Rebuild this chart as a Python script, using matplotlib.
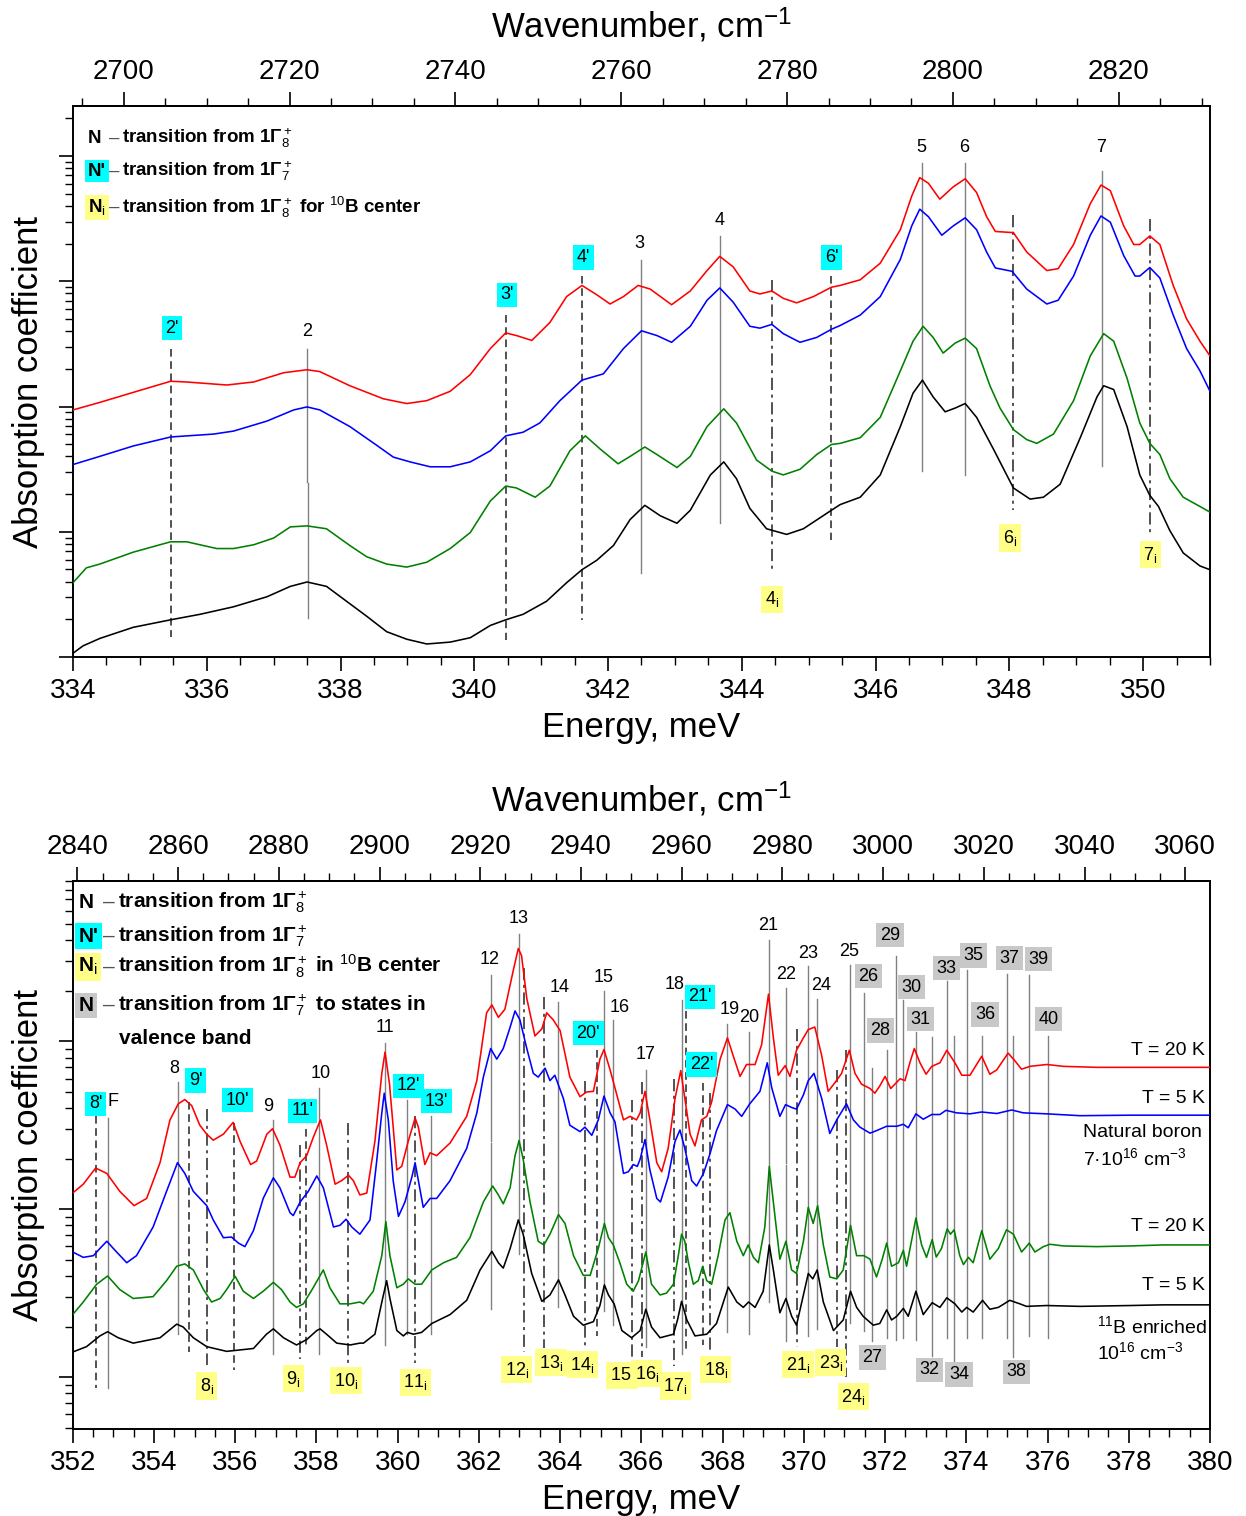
import numpy as np
import matplotlib
matplotlib.use('Agg')
import matplotlib.pyplot as plt
from matplotlib.ticker import MultipleLocator, LogLocator, NullFormatter, FixedLocator

plt.rcParams['font.family'] = ['Liberation Sans', 'DejaVu Sans']
plt.rcParams['mathtext.fontset'] = 'custom'
plt.rcParams['mathtext.rm'] = 'Liberation Sans'
plt.rcParams['mathtext.it'] = 'Liberation Sans:italic'
plt.rcParams['mathtext.bf'] = 'Liberation Sans:bold'

MEV_TO_CM = 8.06554

# ---------------- TOP PANEL DATA: (energy meV, log10 absorption) ----------------
top_red = [(334.00,1.973),(334.40,2.033),(334.90,2.113),(335.46,2.202),(335.70,2.196),(336.30,2.172),(336.70,2.196),
 (337.15,2.270),(337.50,2.294),(337.69,2.279),(338.14,2.166),(338.64,2.062),(338.99,2.024),(339.29,2.047),(339.64,2.122),
 (339.94,2.255),(340.24,2.463),(340.47,2.588),(340.63,2.567),(340.86,2.528),(341.13,2.671),(341.38,2.878),(341.61,2.967),
 (341.83,2.893),(342.03,2.819),(342.23,2.878),(342.45,2.967),(342.63,2.938),(342.95,2.813),(343.23,2.923),(343.48,3.086),
 (343.67,3.199),(343.87,3.116),(344.12,2.923),(344.27,2.899),(344.45,2.923),(344.62,2.864),(344.82,2.828),(345.07,2.878),
 (345.34,2.953),(345.47,2.967),(345.77,3.012),(346.07,3.145),(346.37,3.412),(346.54,3.680),(346.66,3.828),(346.79,3.783),
 (346.96,3.656),(347.16,3.754),(347.34,3.819),(347.51,3.709),(347.66,3.516),(347.79,3.398),(348.06,3.389),(348.26,3.234),
 (348.56,3.086),(348.73,3.101),(348.96,3.294),(349.21,3.620),(349.37,3.769),(349.51,3.724),(349.71,3.442),(349.86,3.294),
 (349.95,3.294),(350.10,3.362),(350.25,3.294),(350.45,2.967),(350.65,2.700),(350.85,2.522),(351.00,2.404)]

top_blue = [(334.00,1.537),(334.40,1.602),(334.90,1.685),(335.46,1.757),(336.10,1.780),(336.40,1.804),(336.90,1.884),
 (337.30,1.973),(337.50,1.997),(337.69,1.973),(338.14,1.840),(338.54,1.691),(338.79,1.596),(339.04,1.558),(339.34,1.519),
 (339.64,1.519),(339.94,1.558),(340.24,1.647),(340.47,1.766),(340.73,1.795),(340.98,1.869),(341.28,2.047),(341.61,2.211),
 (341.93,2.261),(342.23,2.463),(342.50,2.605),(342.73,2.567),(342.95,2.513),(343.23,2.641),(343.48,2.849),(343.67,2.947),
 (343.87,2.834),(344.12,2.641),(344.27,2.626),(344.45,2.656),(344.62,2.582),(344.87,2.513),(345.12,2.552),(345.34,2.617),
 (345.47,2.647),(345.77,2.730),(346.07,2.878),(346.37,3.175),(346.54,3.442),(346.66,3.576),(346.79,3.516),(346.99,3.368),
 (347.16,3.442),(347.34,3.507),(347.51,3.412),(347.66,3.234),(347.79,3.107),(348.04,3.080),(348.26,2.938),(348.56,2.819),
 (348.73,2.849),(348.96,3.042),(349.21,3.368),(349.37,3.522),(349.51,3.472),(349.71,3.205),(349.88,3.042),(349.95,3.042),
 (350.10,3.110),(350.25,3.027),(350.45,2.730),(350.65,2.463),(350.85,2.285),(351.00,2.122)]

top_green = [(334.00,0.593),(334.20,0.712),(334.40,0.742),(334.90,0.837),(335.46,0.920),(335.70,0.920),(336.15,0.866),
 (336.40,0.866),(336.70,0.896),(337.00,0.950),(337.25,1.039),(337.50,1.047),(337.79,1.024),(338.14,0.890),(338.39,0.801),
 (338.69,0.742),(338.99,0.718),(339.29,0.757),(339.64,0.866),(339.94,0.994),(340.24,1.246),(340.47,1.365),(340.63,1.350),
 (340.91,1.276),(341.13,1.365),(341.43,1.647),(341.66,1.766),(341.88,1.662),(342.15,1.543),(342.33,1.602),(342.55,1.677),
 (342.73,1.617),(343.03,1.513),(343.23,1.602),(343.48,1.840),(343.73,1.982),(343.92,1.869),(344.22,1.573),(344.45,1.484),
 (344.62,1.454),(344.87,1.499),(345.12,1.617),(345.34,1.697),(345.47,1.706),(345.77,1.751),(346.07,1.914),(346.37,2.285),
 (346.56,2.522),(346.71,2.641),(346.86,2.552),(347.01,2.427),(347.19,2.507),(347.34,2.546),(347.51,2.463),(347.71,2.166),
 (347.86,1.988),(348.06,1.816),(348.26,1.736),(348.41,1.706),(348.66,1.780),(348.96,2.047),(349.21,2.404),(349.41,2.582),
 (349.56,2.522),(349.76,2.226),(349.95,1.869),(350.10,1.706),(350.25,1.617),(350.40,1.424),(350.60,1.276),(350.85,1.202),
 (351.00,1.157)]

top_black = [(334.00,0.030),(334.15,0.089),(334.40,0.148),(334.90,0.237),(335.46,0.297),(335.90,0.341),(336.40,0.401),
 (336.90,0.481),(337.25,0.564),(337.50,0.599),(337.79,0.564),(338.09,0.445),(338.39,0.326),(338.69,0.202),(338.99,0.142),
 (339.29,0.104),(339.64,0.119),(339.94,0.154),(340.24,0.252),(340.47,0.297),(340.73,0.341),(341.08,0.445),(341.38,0.593),
 (341.61,0.697),(341.83,0.772),(342.08,0.890),(342.33,1.098),(342.55,1.211),(342.78,1.128),(343.03,1.068),(343.23,1.172),
 (343.53,1.454),(343.73,1.558),(343.92,1.424),(344.12,1.187),(344.37,1.024),(344.67,0.979),(344.92,1.024),(345.34,1.172),
 (345.47,1.217),(345.77,1.276),(346.07,1.454),(346.37,1.840),(346.56,2.107),(346.70,2.211),(346.86,2.077),(347.04,1.958),
 (347.19,1.988),(347.34,2.024),(347.51,1.914),(347.76,1.662),(348.06,1.350),(348.31,1.261),(348.51,1.276),(348.76,1.380),
 (349.06,1.751),(349.31,2.077),(349.41,2.166),(349.56,2.136),(349.76,1.840),(349.95,1.454),(350.10,1.291),(350.23,1.202),
 (350.40,1.009),(350.60,0.831),(350.85,0.727),(351.00,0.697)]

# marker lines: (energy, log top, log bottom, style)  s=solid gray, d=dashed, dd=dash-dot
top_lines = [(335.46,2.463,0.163,'d'),(337.50,2.463,1.395,'s'),(337.51,1.389,0.312,'s'),(340.47,2.730,0.134,'d'),
 (341.61,3.042,0.297,'d'),(342.50,3.169,0.668,'s'),(343.67,3.359,1.068,'s'),(344.45,3.012,0.668,'dd'),
 (345.34,3.042,0.935,'d'),(346.70,3.947,1.484,'s'),(347.34,3.947,1.454,'s'),(348.06,3.531,1.172,'dd'),
 (349.38,3.881,1.528,'s'),(350.10,3.501,0.964,'dd')]

I = "$_{\\rm i}$"
# labels: (text, energy, log position, kind)  n=plain, c=cyan, y=yellow, g=gray
top_labels = [("2'",335.48,2.626,'c'),("2",337.50,2.596,'n'),("3'",340.49,2.893,'c'),("4'",341.63,3.190,'c'),
 ("3",342.47,3.300,'n'),("4",343.67,3.487,'n'),("6'",345.34,3.190,'c'),("4"+I,344.45,0.460,'y'),
 ("5",346.68,4.065,'n'),("6",347.33,4.071,'n'),("7",349.37,4.065,'n'),("6"+I,348.01,0.950,'y'),
 ("7"+I,350.11,0.816,'y')]

# ---------------- BOTTOM PANEL DATA ----------------
bot_red = [(352.00,2.096),(352.26,2.149),(352.565,2.245),(352.84,2.213),(353.16,2.106),(353.51,2.021),(353.82,2.064),
 (354.15,2.277),(354.395,2.532),(354.60,2.628),(354.76,2.653),(354.93,2.617),(355.13,2.500),(355.30,2.447),(355.46,2.411),
 (355.71,2.447),(355.95,2.517),(356.12,2.404),(356.38,2.266),(356.53,2.287),(356.78,2.447),(356.92,2.479),(357.10,2.383),
 (357.35,2.191),(357.47,2.191),(357.60,2.277),(357.76,2.319),(357.92,2.426),(358.10,2.532),(358.25,2.383),(358.46,2.149),
 (358.62,2.170),(358.79,2.202),(358.91,2.170),(359.07,2.085),(359.24,2.096),(359.44,2.404),(359.61,2.809),(359.69,2.936),
 (359.80,2.745),(359.98,2.234),(360.10,2.255),(360.26,2.404),(360.43,2.543),(360.51,2.489),(360.67,2.266),(360.80,2.336),
 (360.96,2.319),(361.29,2.394),(361.70,2.553),(361.95,2.766),(362.19,3.170),(362.32,3.217),(362.48,3.143),(362.64,3.191),
 (362.85,3.426),(362.97,3.553),(363.05,3.511),(363.18,3.255),(363.38,3.032),(363.55,3.074),(363.67,3.170),(363.83,3.128),
 (364.00,3.064),(364.24,2.787),(364.49,2.670),(364.65,2.698),(364.82,2.702),(364.98,2.894),(365.08,2.951),(365.23,2.830),
 (365.35,2.723),(365.56,2.532),(365.72,2.553),(365.88,2.532),(365.97,2.574),(366.09,2.702),(366.21,2.532),(366.38,2.277),
 (366.50,2.223),(366.66,2.362),(366.83,2.660),(366.97,2.826),(367.07,2.660),(367.20,2.447),(367.32,2.377),(367.48,2.532),
 (367.61,2.553),(367.73,2.638),(367.94,2.894),(368.12,3.021),(368.26,2.915),(368.43,2.791),(368.59,2.862),(368.80,2.862),
 (368.96,2.979),(369.13,3.281),(369.25,3.021),(369.37,2.798),(369.54,2.855),(369.66,2.791),(369.82,2.947),(369.99,3.021),
 (370.11,3.070),(370.27,3.085),(370.44,2.915),(370.60,2.702),(370.77,2.755),(370.93,2.809),(371.12,2.947),(371.26,2.809),
 (371.42,2.745),(371.63,2.719),(371.75,2.691),(371.87,2.734),(372.00,2.791),(372.14,2.719),(372.37,2.777),(372.49,2.766),
 (372.61,2.872),(372.72,2.957),(372.86,2.872),(373.01,2.804),(373.15,2.851),(373.35,2.872),(373.52,2.947),(373.72,2.872),
 (373.89,2.798),(374.09,2.798),(374.38,2.911),(374.58,2.804),(374.75,2.830),(375.03,2.930),(375.20,2.883),(375.36,2.834),
 (375.57,2.851),(375.98,2.862),(376.39,2.851),(377.21,2.845),(378.03,2.845),(378.85,2.845),(380.00,2.845)]

bot_blue = [(352.00,1.745),(352.26,1.713),(352.51,1.723),(352.67,1.766),(352.84,1.809),(353.00,1.766),(353.33,1.681),
 (353.57,1.723),(353.98,1.894),(354.31,2.106),(354.58,2.277),(354.76,2.213),(354.97,2.106),(355.30,2.021),(355.46,1.936),
 (355.71,1.830),(355.91,1.834),(356.08,1.798),(356.24,1.777),(356.45,1.872),(356.69,2.064),(356.94,2.187),(357.10,2.128),
 (357.35,1.979),(357.43,1.962),(357.60,2.043),(357.80,2.106),(358.01,2.198),(358.17,2.128),(358.42,1.894),(358.58,1.904),
 (358.73,1.940),(358.87,1.894),(359.07,1.851),(359.32,1.936),(359.48,2.277),(359.61,2.574),(359.67,2.691),(359.77,2.532),
 (359.89,2.170),(360.02,1.957),(360.18,2.043),(360.35,2.191),(360.43,2.277),(360.51,2.170),(360.63,2.011),(360.80,2.064),
 (360.96,2.064),(361.29,2.170),(361.70,2.362),(361.95,2.574),(362.11,2.787),(362.29,2.957),(362.44,2.894),(362.60,2.957),
 (362.77,3.085),(362.89,3.181),(363.01,3.128),(363.18,2.957),(363.34,2.809),(363.46,2.787),(363.63,2.840),(363.75,2.766),
 (363.87,2.798),(364.08,2.660),(364.24,2.500),(364.49,2.462),(364.61,2.489),(364.78,2.440),(364.94,2.532),(365.08,2.674),
 (365.23,2.574),(365.35,2.521),(365.56,2.213),(365.68,2.223),(365.80,2.266),(365.90,2.255),(365.97,2.298),(366.09,2.415),
 (366.21,2.234),(366.38,2.064),(366.47,2.043),(366.66,2.191),(366.83,2.404),(366.95,2.472),(367.07,2.362),(367.24,2.170),
 (367.36,2.138),(367.53,2.213),(367.69,2.330),(367.85,2.468),(368.12,2.623),(368.31,2.596),(368.47,2.553),(368.67,2.628),
 (368.92,2.702),(369.10,2.872),(369.21,2.723),(369.41,2.553),(369.55,2.623),(369.70,2.606),(369.82,2.596),(369.99,2.681),
 (370.11,2.766),(370.25,2.809),(370.44,2.660),(370.64,2.451),(370.81,2.532),(371.05,2.628),(371.22,2.532),(371.38,2.489),
 (371.63,2.453),(371.79,2.468),(372.04,2.494),(372.29,2.494),(372.45,2.506),(372.57,2.485),(372.76,2.568),(372.94,2.536),
 (373.15,2.564),(373.35,2.564),(373.50,2.589),(373.76,2.574),(374.09,2.568),(374.38,2.579),(374.75,2.570),(375.12,2.591),
 (375.40,2.574),(375.98,2.568),(376.80,2.557),(378.03,2.560),(380.00,2.560)]

bot_green = [(352.00,1.372),(352.26,1.447),(352.59,1.553),(352.86,1.602),(353.16,1.521),(353.49,1.468),(353.98,1.479),
 (354.31,1.574),(354.56,1.660),(354.76,1.674),(354.97,1.638),(355.22,1.521),(355.42,1.447),(355.63,1.468),(355.79,1.521),
 (356.00,1.600),(356.20,1.511),(356.45,1.468),(356.69,1.511),(356.94,1.564),(357.14,1.521),(357.35,1.447),(357.51,1.415),
 (357.68,1.436),(357.92,1.532),(358.17,1.638),(358.33,1.532),(358.58,1.436),(358.83,1.436),(359.07,1.447),(359.16,1.436),
 (359.40,1.511),(359.61,1.723),(359.71,1.926),(359.81,1.723),(359.98,1.532),(360.14,1.553),(360.26,1.585),(360.43,1.553),
 (360.59,1.553),(360.84,1.638),(361.13,1.681),(361.45,1.713),(361.78,1.830),(362.11,2.043),(362.34,2.138),(362.48,2.085),
 (362.60,2.032),(362.77,2.128),(362.89,2.319),(362.99,2.409),(363.09,2.298),(363.26,2.043),(363.46,1.809),(363.60,1.787),
 (363.75,1.851),(363.96,1.968),(364.12,1.915),(364.33,1.723),(364.57,1.606),(364.74,1.606),(364.94,1.766),(365.09,1.915),
 (365.19,1.830),(365.31,1.787),(365.47,1.681),(365.64,1.553),(365.80,1.511),(365.93,1.574),(366.11,1.745),(366.25,1.553),
 (366.46,1.489),(366.62,1.500),(366.79,1.553),(366.91,1.723),(366.99,1.851),(367.07,1.809),(367.16,1.681),(367.28,1.553),
 (367.40,1.574),(367.51,1.660),(367.61,1.574),(367.73,1.553),(367.89,1.723),(368.06,1.936),(368.18,1.979),(368.35,1.809),
 (368.51,1.723),(368.63,1.787),(368.76,1.713),(368.88,1.681),(369.04,1.894),(369.15,2.255),(369.25,2.043),(369.41,1.702),
 (369.56,1.809),(369.70,1.638),(369.82,1.617),(369.99,1.809),(370.11,2.011),(370.23,1.915),(370.34,2.021),(370.48,1.787),
 (370.64,1.596),(370.81,1.585),(370.97,1.638),(371.15,1.904),(371.30,1.723),(371.48,1.723),(371.63,1.702),(371.79,1.596),
 (371.93,1.702),(372.04,1.798),(372.16,1.660),(372.33,1.681),(372.45,1.755),(372.53,1.660),(372.65,1.809),(372.76,1.947),
 (372.90,1.787),(373.02,1.713),(373.16,1.819),(373.26,1.715),(373.39,1.766),(373.53,1.883),(373.61,1.851),(373.70,1.877),
 (373.84,1.723),(373.93,1.670),(374.05,1.713),(374.17,1.681),(374.38,1.872),(374.58,1.702),(374.79,1.766),(374.99,1.877),
 (375.16,1.851),(375.36,1.745),(375.44,1.766),(375.55,1.798),(375.69,1.745),(375.90,1.777),(376.06,1.791),(376.39,1.781),
 (377.21,1.777),(378.03,1.781),(378.85,1.787),(380.00,1.787)]

bot_black = [(352.00,1.149),(352.34,1.181),(352.67,1.245),(352.86,1.270),(353.12,1.234),(353.49,1.202),(354.15,1.234),
 (354.56,1.315),(354.72,1.298),(354.97,1.234),(355.30,1.181),(355.79,1.153),(356.45,1.170),(356.77,1.255),(356.94,1.287),
 (357.19,1.234),(357.51,1.191),(357.76,1.223),(358.01,1.277),(358.09,1.287),(358.25,1.255),(358.50,1.202),(358.83,1.191),
 (359.07,1.202),(359.16,1.202),(359.44,1.255),(359.63,1.468),(359.73,1.574),(359.81,1.468),(359.98,1.277),(360.14,1.245),
 (360.24,1.266),(360.39,1.255),(360.59,1.266),(360.84,1.319),(361.29,1.372),(361.70,1.457),(362.03,1.638),(362.32,1.749),
 (362.48,1.681),(362.60,1.649),(362.77,1.766),(362.97,1.936),(363.09,1.851),(363.30,1.617),(363.55,1.451),(363.75,1.489),
 (363.96,1.579),(364.12,1.489),(364.33,1.362),(364.57,1.309),(364.82,1.330),(364.98,1.426),(365.09,1.549),(365.19,1.489),
 (365.33,1.436),(365.52,1.277),(365.76,1.234),(365.97,1.277),(366.11,1.404),(366.25,1.298),(366.46,1.234),(366.79,1.255),
 (366.89,1.340),(366.99,1.451),(367.12,1.340),(367.32,1.245),(367.61,1.255),(367.85,1.319),(368.14,1.536),(368.35,1.447),
 (368.51,1.415),(368.64,1.447),(368.80,1.415),(369.00,1.511),(369.15,1.787),(369.25,1.638),(369.41,1.383),(369.56,1.468),
 (369.70,1.362),(369.82,1.309),(369.99,1.489),(370.11,1.617),(370.22,1.585),(370.33,1.638),(370.48,1.447),(370.73,1.277),
 (370.97,1.340),(371.15,1.511),(371.30,1.415),(371.46,1.362),(371.71,1.309),(371.87,1.319),(372.04,1.400),(372.16,1.340),
 (372.29,1.362),(372.45,1.409),(372.57,1.362),(372.76,1.511),(372.94,1.372),(373.16,1.443),(373.35,1.415),(373.52,1.472),
 (373.72,1.436),(373.89,1.387),(374.01,1.415),(374.17,1.387),(374.40,1.457),(374.58,1.404),(374.79,1.415),(375.07,1.457),
 (375.32,1.436),(375.48,1.421),(375.98,1.426),(376.80,1.421),(378.03,1.426),(378.85,1.430),(380.00,1.430)]

bot_lines = [(352.565,2.553,0.936,'d'),(352.86,2.543,0.936,'s'),(354.60,2.755,1.255,'s'),(354.87,2.638,1.149,'d'),
 (355.30,2.596,1.074,'dd'),(355.97,2.511,1.043,'d'),(356.92,2.532,1.138,'s'),(357.59,2.383,1.106,'dd'),
 (357.74,2.479,1.181,'d'),(358.07,2.723,1.138,'s'),(358.79,2.511,1.074,'dd'),(359.69,2.989,1.191,'s'),
 (360.22,2.649,1.255,'s'),(360.43,2.553,1.085,'dd'),(360.82,2.553,1.255,'s'),(362.29,3.394,2.404,'s'),
 (362.30,2.394,1.404,'s'),(362.98,3.638,1.734,'s'),(363.10,3.436,1.149,'dd'),(363.60,3.266,1.170,'dd'),
 (363.96,3.234,1.415,'s'),(364.61,2.766,1.181,'dd'),(364.92,2.947,1.245,'d'),(365.09,3.298,1.394,'s'),
 (365.31,3.128,1.309,'s'),(365.76,2.649,1.106,'dd'),(366.01,2.755,1.117,'dd'),(366.11,2.830,1.181,'s'),
 (366.80,2.777,1.064,'dd'),(366.99,3.245,1.138,'s'),(367.09,3.181,1.160,'d'),(367.51,2.751,1.191,'d'),
 (367.69,2.691,1.138,'dd'),(368.12,3.106,1.266,'s'),(368.66,3.053,1.255,'s'),(369.15,3.606,1.447,'s'),
 (369.56,3.319,2.277,'s'),(369.55,2.266,1.213,'s'),(369.84,3.074,1.181,'dd'),(370.11,3.447,1.245,'s'),
 (370.33,3.255,1.287,'s'),(370.81,2.830,1.181,'dd'),(371.03,2.947,1.000,'dd'),(371.14,3.457,1.319,'s'),
 (371.49,3.287,1.277,'s'),(371.67,2.840,1.213,'s'),(372.04,2.947,1.234,'s'),(372.26,3.511,1.223,'s'),
 (372.45,3.245,1.234,'s'),(372.76,3.053,1.223,'s'),(373.15,3.026,1.128,'s'),(373.53,3.362,1.234,'s'),
 (373.70,3.032,1.096,'s'),(374.02,3.426,1.234,'s'),(374.38,3.032,1.234,'s'),(375.01,3.404,1.234,'s'),
 (375.16,3.032,1.117,'s'),(375.55,3.394,1.245,'s'),(376.02,3.032,1.234,'s')]

bot_labels = [("8'",352.565,2.628,'c'),("F",353.00,2.643,'n'),("8",354.50,2.836,'n'),("9'",355.03,2.766,'c'),
 ("10'",356.06,2.649,'c'),("9",356.82,2.611,'n'),("11'",357.65,2.585,'c'),("10",358.10,2.809,'n'),
 ("11",359.69,3.085,'n'),("12'",360.26,2.734,'c'),("13'",360.96,2.643,'c'),("12",362.27,3.489,'n'),
 ("13",362.97,3.734,'n'),("14",364.00,3.323,'n'),("15",365.08,3.379,'n'),("16",365.47,3.202,'n'),
 ("17",366.11,2.919,'n'),("20'",364.69,3.049,'c'),("18",366.81,3.336,'n'),("21'",367.44,3.266,'c'),
 ("22'",367.48,2.862,'c'),("19",368.17,3.187,'n'),("20",368.66,3.143,'n'),("21",369.11,3.691,'n'),
 ("22",369.56,3.400,'n'),("23",370.11,3.521,'n'),("24",370.42,3.330,'n'),("25",371.12,3.536,'n'),
 ("26",371.59,3.387,'g'),("29",372.12,3.632,'g'),("30",372.65,3.323,'g'),("28",371.89,3.064,'g'),
 ("31",372.88,3.132,'g'),("33",373.52,3.436,'g'),("35",374.17,3.511,'g'),("37",375.07,3.496,'g'),
 ("39",375.78,3.489,'g'),("36",374.46,3.160,'g'),("40",376.02,3.132,'g'),
 ("8"+I,355.30,0.947,'y'),("9"+I,357.43,0.989,'y'),("10"+I,358.73,0.979,'y'),("11"+I,360.44,0.968,'y'),
 ("12"+I,362.93,1.043,'y'),("13"+I,363.77,1.085,'y'),("14"+I,364.55,1.074,'y'),("15"+I,365.52,1.011,'y'),
 ("16"+I,366.13,1.021,'y'),("17"+I,366.84,0.947,'y'),("18"+I,367.83,1.043,'y'),("21"+I,369.86,1.074,'y'),
 ("23"+I,370.66,1.085,'y'),("24"+I,371.22,0.883,'y'),
 ("27",371.69,1.117,'g'),("32",373.09,1.043,'g'),("34",373.82,1.015,'g'),("38",375.24,1.032,'g')]

# right-side annotations of the bottom panel: (text, energy, log position, alignment)
bot_notes = [("T = 20 K",379.88,2.947,'right'),("T = 5 K",379.88,2.660,'right'),
 ("Natural boron",376.88,2.457,'left'),("7·10$^{16}$ cm$^{-3}$",376.88,2.302,'left'),
 ("T = 20 K",379.88,1.894,'right'),("T = 5 K",379.88,1.543,'right'),
 ("$^{11}$B enriched",377.21,1.302,'left'),("10$^{16}$ cm$^{-3}$",377.21,1.149,'left')]

top_wn_ticks = [2700, 2720, 2740, 2760, 2780, 2800, 2820]
bot_wn_ticks = [2840, 2860, 2880, 2900, 2920, 2940, 2960, 2980, 3000, 3020, 3040, 3060]

COLORS = {'red': '#FF0000', 'blue': '#0000FF', 'green': '#008000', 'black': '#000000'}
BOX = {'c': '#00FFFF', 'y': '#FFFF88', 'g': '#C8C8C8'}
STYLE = {'s': dict(color='#808080', lw=1.0, ls='-'),
         'd': dict(color='#222222', lw=1.1, ls=(0, (5, 3))),
         'dd': dict(color='#222222', lw=1.1, ls=(0, (8, 3, 2, 3)))}

fig = plt.figure(figsize=(12.46, 15.16), dpi=100)
ax1 = fig.add_axes([73/1246, 1-657/1516, 1137/1246, 551/1516])
ax2 = fig.add_axes([72.7/1246, 1-1428.9/1516, 1137.3/1246, 548.2/1516])


def setup(ax, xlim, ylog, wn_ticks):
    ax.set_yscale('log')
    ax.set_xlim(*xlim)
    ax.set_ylim(10**ylog[0], 10**ylog[1])
    ax.xaxis.set_major_locator(MultipleLocator(2))
    ax.xaxis.set_minor_locator(MultipleLocator(0.5))
    ax.yaxis.set_major_locator(LogLocator(base=10, numticks=50))
    ax.yaxis.set_minor_locator(LogLocator(base=10, subs=np.arange(2, 10), numticks=50))
    ax.yaxis.set_major_formatter(NullFormatter())
    ax.yaxis.set_minor_formatter(NullFormatter())
    ax.tick_params(which='major', direction='out', length=10, width=1.2, labelsize=20, pad=5)
    ax.tick_params(which='minor', direction='out', length=5.5, width=1.0)
    for s in ax.spines.values():
        s.set_linewidth(1.4)
    sec = ax.secondary_xaxis('top', functions=(lambda e: e*MEV_TO_CM, lambda w: w/MEV_TO_CM))
    lo, hi = xlim[0]*MEV_TO_CM, xlim[1]*MEV_TO_CM
    sec.xaxis.set_major_locator(FixedLocator(wn_ticks))
    sec.xaxis.set_minor_locator(FixedLocator([w for w in np.arange(2600, 3100, 5) if lo <= w <= hi]))
    sec.tick_params(which='major', direction='out', length=10, width=1.2, labelsize=20, pad=5)
    sec.tick_params(which='minor', direction='out', length=5.5, width=1.0)
    sec.spines['top'].set_linewidth(1.4)
    sec.set_xlabel('Wavenumber, cm$^{-1}$', fontsize=25, labelpad=16)
    ax.set_xlabel('Energy, meV', fontsize=25, labelpad=5)
    ax.set_ylabel('Absorption coefficient', fontsize=25, labelpad=5)


def draw(ax, curves, lines, labels, fs):
    for pts, c in curves:
        a = np.array(pts)
        ax.plot(a[:, 0], 10**a[:, 1], color=COLORS[c], lw=1.15, zorder=3)
    for x, t, b, st in lines:
        ax.plot([x, x], [10**t, 10**b], zorder=2, **STYLE[st])
    for txt, x, y, k in labels:
        kw = {}
        if k in BOX:
            kw['bbox'] = dict(boxstyle='square,pad=0.2', fc=BOX[k], ec='none')
        ax.text(x, 10**y, txt, ha='center', va='center', fontsize=fs, zorder=4, **kw)


setup(ax1, (334, 351), (0.0, 4.4), top_wn_ticks)
draw(ax1, [(top_red, 'red'), (top_blue, 'blue'), (top_green, 'green'), (top_black, 'black')],
     top_lines, top_labels, 13)

setup(ax2, (352, 380), (0.691, 3.957), bot_wn_ticks)
draw(ax2, [(bot_red, 'red'), (bot_blue, 'blue'), (bot_green, 'green'), (bot_black, 'black')],
     bot_lines, bot_labels, 13)
for txt, x, y, ha in bot_notes:
    ax2.text(x, 10**y, txt, ha=ha, va='center', fontsize=14)


def legend(ax, rows, xs, fs):
    for box, k, txt, y in rows:
        kw = {}
        if k:
            kw['bbox'] = dict(boxstyle='square,pad=0.15', fc=BOX[k], ec='none')
        ax.text(xs[0], y, box, transform=ax.transAxes, ha='left', va='center', fontsize=fs,
                fontweight='bold', **kw)
        ax.text(xs[1], y, "–", transform=ax.transAxes, ha='left', va='center', fontsize=fs,
                color='#555555')
        ax.text(xs[2], y, txt, transform=ax.transAxes, ha='left', va='center', fontsize=fs,
                fontweight='bold')


top_leg = [("N", None, "transition from 1Γ$_8^+$", 0.941),
           ("N'", 'c', "transition from 1Γ$_7^+$", 0.882),
           ("N" + I, 'y', "transition from 1Γ$_8^+$ for $^{10}$B center", 0.816)]
legend(ax1, top_leg, (0.0132, 0.0317, 0.0431), 13.5)

bot_leg = [("N", None, "transition from 1Γ$_8^+$", 0.961),
           ("N'", 'c', "transition from 1Γ$_7^+$", 0.899),
           ("N" + I, 'y', "transition from 1Γ$_8^+$ in $^{10}$B center", 0.843),
           ("N", 'g', "transition from 1Γ$_7^+$ to states in", 0.773)]
legend(ax2, bot_leg, (0.005, 0.0266, 0.0401), 15)
ax2.text(0.0407, 0.713, "valence band", transform=ax2.transAxes, ha='left', va='center',
         fontsize=15, fontweight='bold')

fig.savefig('out.png', dpi=100)
